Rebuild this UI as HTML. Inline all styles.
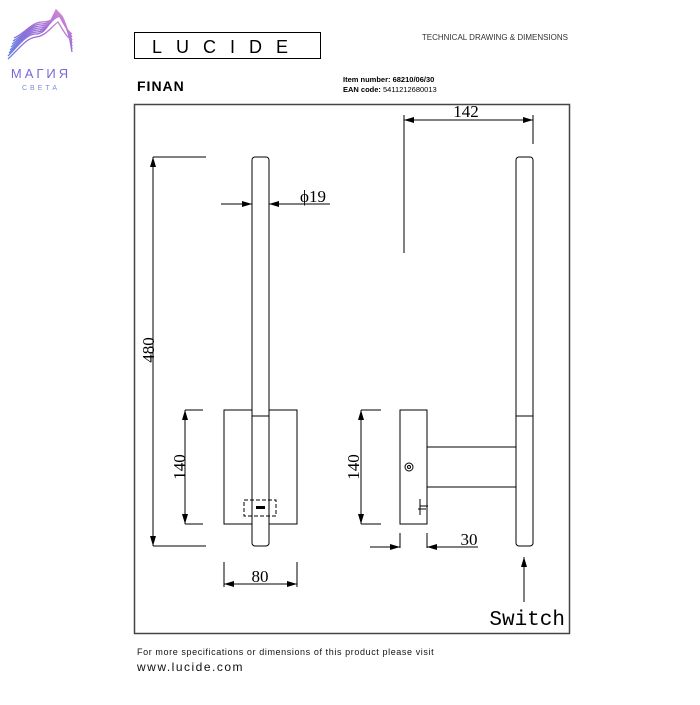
<!DOCTYPE html>
<html><head><meta charset="utf-8"><style>
body{margin:0;background:#fff;width:700px;height:700px;overflow:hidden;font-family:"Liberation Sans",sans-serif}
</style></head><body>
<svg width="700" height="700" viewBox="0 0 700 700" xmlns="http://www.w3.org/2000/svg">
<defs>
<linearGradient id="g" x1="0" y1="1" x2="1" y2="0"><stop offset="0" stop-color="#6a7fe0"/><stop offset="0.5" stop-color="#9a6ad8"/><stop offset="1" stop-color="#d88ad0"/></linearGradient>
<marker id="a" markerWidth="10" markerHeight="6" refX="10" refY="3" orient="auto" markerUnits="userSpaceOnUse"><path d="M0,0 L10,3 L0,6 z" fill="#000"/></marker>
</defs>
<!-- logo -->
<g fill="none" stroke="url(#g)" stroke-width="1.3">
<path d="M8,56 C18,46 26,34 36,34 C46,34 50,22 56,10 C62,20 66,30 72,34"/>
<path d="M9,53 C19,44 27,32 37,32 C47,32 51,21 57,11 C63,21 67,30 72,37"/>
<path d="M10,50 C20,42 28,30 38,30 C48,30 52,20 58,12 C64,22 68,32 72,40"/>
<path d="M11,47 C21,40 29,28 39,28 C49,28 53,19 59,13 C65,23 69,34 72,43"/>
<path d="M12,44 C22,38 30,26 40,26 C50,26 54,18 60,14 C66,24 69,36 72,46"/>
<path d="M13,41 C23,36 31,24 41,24 C51,24 55,17 61,15 C67,26 70,38 72,49"/>
<path d="M14,38 C24,34 32,22 42,22 C52,22 56,16 62,16 C68,28 70,40 72,52"/>
<path d="M8,59 C18,50 26,38 36,37 C46,36 52,26 58,22 C63,30 67,38 72,40"/>
</g>
<text x="41" y="78" font-size="13" fill="#7a68d8" text-anchor="middle" letter-spacing="3">МАГИЯ</text>
<text x="41" y="90" font-size="7" fill="#7a90d8" text-anchor="middle" letter-spacing="3">СВЕТА</text>
<!-- LUCIDE -->
<rect x="134.5" y="32.5" width="186" height="26" fill="none" stroke="#000"/>
<text x="227" y="53" font-size="18" text-anchor="middle" letter-spacing="14" fill="#000" font-weight="300">LUCIDE</text>
<text x="137" y="91" font-size="14" font-weight="bold" letter-spacing="1">FINAN</text>
<text x="568" y="40" font-size="8" text-anchor="end" fill="#333">TECHNICAL DRAWING &amp; DIMENSIONS</text>
<text x="343" y="82" font-size="7.5" font-weight="bold">Item number: 68210/06/30</text>
<text x="343" y="92" font-size="7.5"><tspan font-weight="bold">EAN code:</tspan> 5411212680013</text>
<!-- frame -->
<rect x="134.5" y="104.5" width="435" height="529" fill="none" stroke="#444" stroke-width="1.5"/>
<g stroke="#000" stroke-width="1" fill="none">
<rect x="224" y="410" width="73" height="114"/>
<rect x="252" y="157" width="17" height="389" rx="3" fill="#fff"/>
<line x1="252" y1="416" x2="269" y2="416"/>
<rect x="244" y="500" width="32" height="16" stroke-dasharray="4,2"/>
<line x1="256" y1="507.5" x2="265" y2="507.5" stroke-width="3"/>
<line x1="153" y1="157" x2="206" y2="157"/><line x1="153" y1="546" x2="206" y2="546"/>
<line x1="153" y1="546" x2="153" y2="157" marker-end="url(#a)"/>
<line x1="153" y1="157" x2="153" y2="546" marker-end="url(#a)"/>
<line x1="185" y1="410" x2="203" y2="410"/><line x1="185" y1="524" x2="203" y2="524"/>
<line x1="185" y1="467" x2="185" y2="410" marker-end="url(#a)"/>
<line x1="185" y1="467" x2="185" y2="524" marker-end="url(#a)"/>
<line x1="224" y1="562" x2="224" y2="587"/><line x1="297" y1="562" x2="297" y2="587"/>
<line x1="260" y1="584" x2="224" y2="584" marker-end="url(#a)"/>
<line x1="260" y1="584" x2="297" y2="584" marker-end="url(#a)"/>
<line x1="221" y1="204" x2="252" y2="204" marker-end="url(#a)"/>
<line x1="330" y1="204" x2="269" y2="204" marker-end="url(#a)"/>
<rect x="400" y="410" width="27" height="114"/>
<rect x="427" y="447" width="90" height="40"/>
<rect x="516" y="157" width="17" height="389" rx="3" fill="#fff"/>
<line x1="516" y1="416" x2="533" y2="416"/>
<circle cx="409" cy="467" r="4"/><circle cx="409" cy="467" r="1.5"/>
<line x1="420" y1="499" x2="420" y2="515"/><line x1="420" y1="506" x2="428" y2="506"/><line x1="418" y1="509" x2="426" y2="509"/>
<line x1="361" y1="410" x2="381" y2="410"/><line x1="361" y1="524" x2="381" y2="524"/>
<line x1="361" y1="467" x2="361" y2="410" marker-end="url(#a)"/>
<line x1="361" y1="467" x2="361" y2="524" marker-end="url(#a)"/>
<line x1="400" y1="533" x2="400" y2="548"/><line x1="427" y1="533" x2="427" y2="548"/>
<line x1="370" y1="547" x2="400" y2="547" marker-end="url(#a)"/>
<line x1="478" y1="547" x2="427" y2="547" marker-end="url(#a)"/>
<line x1="404" y1="115" x2="404" y2="253"/><line x1="533" y1="115" x2="533" y2="144"/>
<line x1="466" y1="120" x2="404" y2="120" marker-end="url(#a)"/>
<line x1="466" y1="120" x2="533" y2="120" marker-end="url(#a)"/>
<line x1="524" y1="602" x2="524" y2="557" marker-end="url(#a)"/>
</g>
<g font-family="Liberation Serif,serif" font-size="17" fill="#000">
<text x="466" y="117" text-anchor="middle">142</text>
<text x="300" y="202">ϕ19</text>
<text x="260" y="582" text-anchor="middle">80</text>
<text x="469" y="545" text-anchor="middle">30</text>
<text transform="translate(154,350) rotate(-90)" text-anchor="middle">480</text>
<text transform="translate(185,467) rotate(-90)" text-anchor="middle">140</text>
<text transform="translate(359,467) rotate(-90)" text-anchor="middle">140</text>
<text x="565" y="625" text-anchor="end" font-family="Liberation Mono,monospace" font-size="21">Switch</text>
</g>
<text x="137" y="655" font-size="9" letter-spacing="0.6" fill="#111">For more specifications or dimensions of this product please visit</text>
<text x="137" y="671" font-size="12" letter-spacing="1.5" fill="#111">www.lucide.com</text>
</svg>
</body></html>
